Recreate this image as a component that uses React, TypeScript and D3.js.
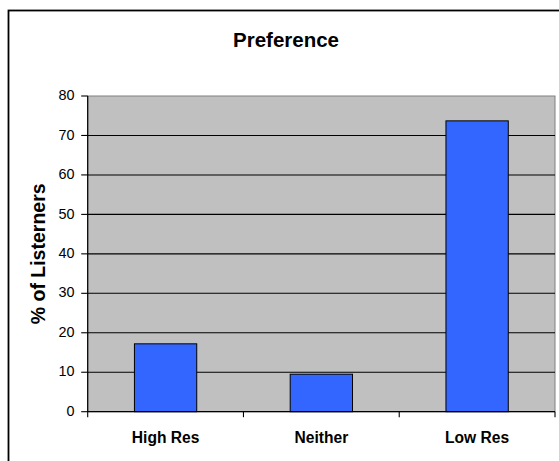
import React from "react";
import * as d3 from "d3";

const categories = ["High Res", "Neither", "Low Res"];
const values = [17.2, 9.5, 73.7];
const yTicks = [0, 10, 20, 30, 40, 50, 60, 70, 80];
const title = "Preference";
const yLabel = "% of Listerners";

const W = 559;
const H = 461;
const plot = { left: 87.7, right: 555, top: 96, bottom: 411.7 };
const font = "'Liberation Sans', Arial, sans-serif";

export default function App() {
  const x = d3
    .scaleBand<string>()
    .domain(categories)
    .range([plot.left, plot.right])
    .paddingInner(0.6)
    .paddingOuter(0.3);
  const y = d3.scaleLinear().domain([0, 80]).range([plot.bottom, plot.top]);
  const step = x.step();
  const bounds = d3.range(categories.length + 1).map((i) => plot.left + i * step);

  return (
    <svg
      width={W}
      height={H}
      style={{ position: "absolute", left: 0, top: 0, background: "#fff" }}
    >
      <rect x={0} y={0} width={W} height={H} fill="#fff" />
      {/* outer chart border */}
      <rect x={8.5} y={10.5} width={700} height={700} fill="none" stroke="#000" strokeWidth={1.8} />
      {/* title */}
      <text
        x={286}
        y={46.5}
        textAnchor="middle"
        fontFamily={font}
        fontWeight="bold"
        fontSize={20.5}
        fill="#000"
      >
        {title}
      </text>
      {/* plot area */}
      <rect
        x={plot.left}
        y={plot.top}
        width={plot.right - plot.left}
        height={plot.bottom - plot.top}
        fill="#C0C0C0"
        stroke="#808080"
        strokeWidth={1}
      />
      {/* gridlines */}
      {yTicks
        .filter((t) => t > 0 && t < 80)
        .map((t) => (
          <line
            key={"g" + t}
            x1={plot.left}
            x2={plot.right}
            y1={y(t)}
            y2={y(t)}
            stroke="#000"
            strokeWidth={1.1}
          />
        ))}
      {/* bars */}
      {categories.map((c, i) => (
        <rect
          key={c}
          x={x(c)}
          y={y(values[i])}
          width={x.bandwidth()}
          height={y(0) - y(values[i])}
          fill="#3366FF"
          stroke="#000"
          strokeWidth={1}
        />
      ))}
      {/* y axis */}
      <line x1={plot.left} x2={plot.left} y1={plot.top} y2={plot.bottom} stroke="#000" strokeWidth={1.2} />
      {yTicks.map((t) => (
        <g key={"t" + t}>
          <line x1={plot.left - 6.5} x2={plot.left} y1={y(t)} y2={y(t)} stroke="#000" strokeWidth={1.1} />
          <text
            x={74.5}
            y={y(t) - 1}
            dy="0.36em"
            textAnchor="end"
            fontFamily={font}
            fontSize={14.4}
            fill="#000"
          >
            {t}
          </text>
        </g>
      ))}
      {/* x axis */}
      <line x1={plot.left} x2={plot.right} y1={plot.bottom} y2={plot.bottom} stroke="#000" strokeWidth={1.2} />
      {bounds.map((b, i) => (
        <line key={"xt" + i} x1={b} x2={b} y1={plot.bottom} y2={plot.bottom + 5.5} stroke="#000" strokeWidth={1.1} />
      ))}
      {categories.map((c) => (
        <text
          key={"l" + c}
          x={(x(c) as number) + x.bandwidth() / 2}
          y={442.7}
          textAnchor="middle"
          fontFamily={font}
          fontWeight="bold"
          fontSize={15.6}
          fill="#000"
        >
          {c}
        </text>
      ))}
      {/* y label */}
      <text
        transform={`translate(45, ${(plot.top + plot.bottom) / 2}) rotate(-90)`}
        textAnchor="middle"
        fontFamily={font}
        fontWeight="bold"
        fontSize={19.5}
        fill="#000"
      >
        {yLabel}
      </text>
    </svg>
  );
}
